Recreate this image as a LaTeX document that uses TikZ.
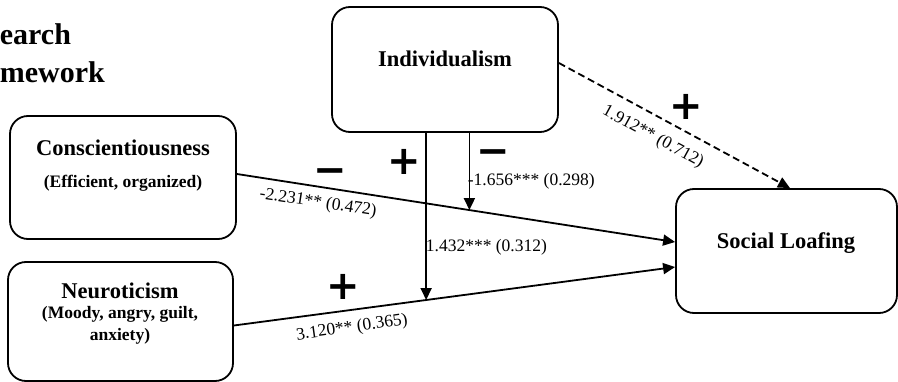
\documentclass[tikz,border=0pt]{standalone}
\usepackage{fontspec}
\setmainfont{Liberation Serif}
\newfontfamily\signfont{DejaVu Sans}
\usetikzlibrary{arrows.meta}

\begin{document}
\begin{tikzpicture}[x=1pt, y=-1pt, line width=1.8pt,
    box/.style={draw, rounded corners=18pt, line width=1.8pt, inner sep=0pt},
    head/.style={font=\bfseries\fontsize{22.5}{24}\selectfont},
    sub/.style={font=\bfseries\fontsize{17.5}{22}\selectfont, align=center},
    ttl/.style={font=\bfseries\fontsize{30}{30}\selectfont, anchor=base west, inner sep=0pt},
    coef/.style={font=\fontsize{17.5}{20}\selectfont, inner sep=1pt},
    sign/.style={font=\signfont\bfseries\fontsize{40}{40}\selectfont, inner sep=0pt},
    link/.style={-{Triangle[length=12pt,width=11pt]}}]
    \useasboundingbox (0,0) rectangle (898,382);
    \node[ttl] (ttlA) at (-1,45) {earch};
    \node[ttl] (ttlB) at (-1,83) {mework};

    \node[box, minimum width=226pt, minimum height=123pt] (cons) at (123,177.5) {};
    \node[box, minimum width=225pt, minimum height=119pt] (neur) at (120.5,321.5) {};
    \node[box, minimum width=226pt, minimum height=125pt] (ind) at (445,69.5) {};
    \node[box, minimum width=221pt, minimum height=124pt] (loaf) at (786.5,251) {};

    \node[head] (consT) at (123,148) {Conscientiousness};
    \node[sub] (consS) at (123,183) {(Efficient, organized)};
    \node[head] (neurT) at (120,291) {Neuroticism};
    \node[sub] (neurS) at (120,325) {(Moody, angry, guilt,\\anxiety)};
    \node[head] (indT) at (445,59) {Individualism};
    \node[head] (loafT) at (786,243) {Social Loafing};

    \draw[link] ([yshift=3.5pt]cons.east) -- coordinate[pos=0.5306] (hitC) ([yshift=9pt]loaf.west);
    \draw[link] ([yshift=-4pt]neur.east) -- coordinate[pos=0.4357] (hitN) ([yshift=-16pt]loaf.west);
    \draw[link] (ind.south -| hitN) -- (hitN);
    \draw[link] (ind.south -| hitC) -- (hitC);
    \draw[link, dash pattern=on 7pt off 4pt] ([yshift=6.5pt]ind.east) -- ([xshift=3.5pt]loaf.north);

    \node[sign] (sgA) at (330,176) {−};
    \node[sign] (sgB) at (493,157) {−};
    \node[sign] (sgC) at (404,162) {+};
    \node[sign] (sgD) at (343,287) {+};
    \node[sign] (sgE) at (686,107) {+};

    \node[coef, rotate=-8.8] (bA) at (318,203) {-2.231** (0.472)};
    \node[coef, anchor=west] (bB) at (466,181) {-1.656*** (0.298)};
    \node[coef, anchor=west] (bC) at (424,247) {1.432*** (0.312)};
    \node[coef, rotate=8.1] (bD) at (352,328) {3.120** (0.365)};
    \node[coef, rotate=-28.5] (bE) at (653,137) {1.912** (0.712)};
\end{tikzpicture}
\end{document}
